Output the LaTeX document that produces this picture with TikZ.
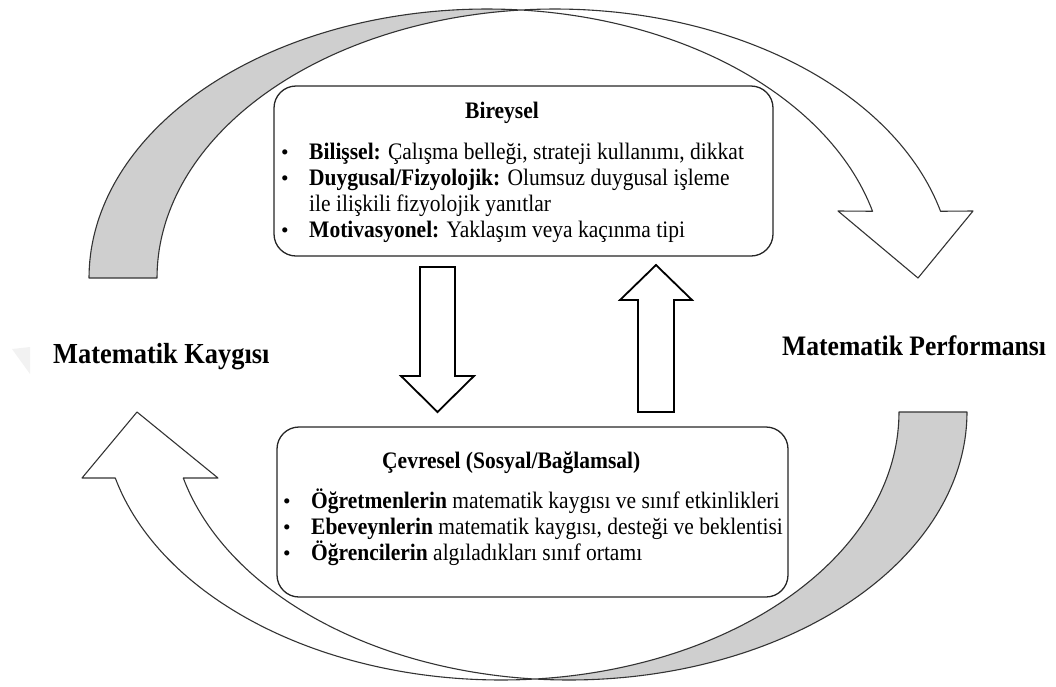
\documentclass[tikz,border=0pt]{standalone}
\usepackage{fontspec}
\setmainfont{Liberation Serif}
% slightly taller lettering
\newcommand\tallfont[1]{\scalebox{1}[1.1]{#1}}
\begin{document}
\begin{tikzpicture}[x=1pt,y=-1pt,
  band/.style={draw=black!80, line width=1.1pt, line join=round},
  backfill/.style={fill=gray!38},
  blockarrow/.style={draw=black, line width=1.8pt, line join=miter, fill=white},
  box/.style={draw=black!85, line width=1.3pt, rounded corners=22pt, fill=white, inner sep=0pt},
  body/.style={anchor=base west, inner sep=0pt, font=\fontsize{21.5}{26}\selectfont},
  head/.style={anchor=base west, inner sep=0pt, font=\fontsize{21.5}{26}\selectfont\bfseries},
  label/.style={anchor=base west, inner sep=0pt, font=\fontsize{26.4}{30}\selectfont\bfseries},
  bullet/.style={anchor=base west, inner sep=0pt, font=\fontsize{21.5}{26}\selectfont}
]
\useasboundingbox (0,0) rectangle (1056,686);

% faint mark at the left edge
\fill[black!5] (12,349) -- (30,347) -- (30,374) -- cycle;

% upper curved arrow: shaded back part, then the outline
\fill[backfill]
  plot[domain=180:274.9,samples=60] ({487+398*cos(\x)},{278+269*sin(\x)})
  -- plot[domain=265.1:180,samples=60] ({555+398*cos(\x)},{278+269*sin(\x)}) -- cycle;
\draw[band]
  plot[domain=180:345.63,samples=140] ({487+398*cos(\x)},{278+269*sin(\x)})
  -- (838,211) -- (918,278) -- (973,211)
  -- plot[domain=345.63:180,samples=140] ({555+398*cos(\x)},{278+269*sin(\x)}) -- cycle;

% lower curved arrow
\fill[backfill]
  plot[domain=0:94.9,samples=60] ({569+398*cos(\x)},{412+268*sin(\x)})
  -- plot[domain=85.1:0,samples=60] ({501+398*cos(\x)},{412+268*sin(\x)}) -- cycle;
\draw[band]
  plot[domain=0:165.75,samples=140] ({569+398*cos(\x)},{412+268*sin(\x)})
  -- (218,478) -- (137,412) -- (82,478)
  -- plot[domain=165.75:0,samples=140] ({501+398*cos(\x)},{412+268*sin(\x)}) -- cycle;

% the two boxes
\node[box, minimum width=499pt, minimum height=170pt] (bir) at (523.5,171) {};
\node[box, minimum width=511pt, minimum height=170pt] (cev) at (532.5,512) {};

% block arrows between the boxes
\draw[blockarrow] (420,267) -- (455,267) -- (455,376) -- (474,376) -- (437.5,412)
  -- (401,376) -- (420,376) -- cycle;
\draw[blockarrow] (638,412) -- (674,412) -- (674,300) -- (692,300) -- (656,265)
  -- (620,300) -- (638,300) -- cycle;

% side labels
\node[label] (mk) at (53,363) {\tallfont{Matematik Kaygısı}};
\node[label, font=\fontsize{25.6}{30}\selectfont\bfseries] (mp) at (782,355) {\tallfont{Matematik Performansı}};

% individual factors
\node[head] (birT) at (465,118) {\tallfont{Bireysel}};
\node[bullet] (bb1) at (281,159) {•};
\node[body] (bl1) at (309,159) {\tallfont{\textbf{Bilişsel:} Çalışma belleği,  strateji kullanımı,  dikkat}};
\node[bullet] (bb2) at (281,185) {•};
\node[body] (bl2) at (309,185) {\tallfont{\textbf{Duygusal/Fizyolojik:} Olumsuz duygusal işleme}};
\node[body] (bl3) at (309,211) {\tallfont{ile ilişkili  fizyolojik yanıtlar}};
\node[bullet] (bb3) at (281,237) {•};
\node[body] (bl4) at (309,237) {\tallfont{\textbf{Motivasyonel:}  Yaklaşım  veya kaçınma tipi}};

% environmental factors
\node[head] (cevT) at (382,468) {\tallfont{Çevresel (Sosyal/Bağlamsal)}};
\node[bullet] (cb1) at (283,508) {•};
\node[body] (cl1) at (311,508) {\tallfont{\textbf{Öğretmenlerin} matematik kaygısı ve sınıf etkinlikleri}};
\node[bullet] (cb2) at (283,534) {•};
\node[body] (cl2) at (311,534) {\tallfont{\textbf{Ebeveynlerin}  matematik kaygısı, desteği ve beklentisi}};
\node[bullet] (cb3) at (283,560) {•};
\node[body] (cl3) at (311,560) {\tallfont{\textbf{Öğrencilerin} algıladıkları sınıf ortamı}};
\end{tikzpicture}
\end{document}
